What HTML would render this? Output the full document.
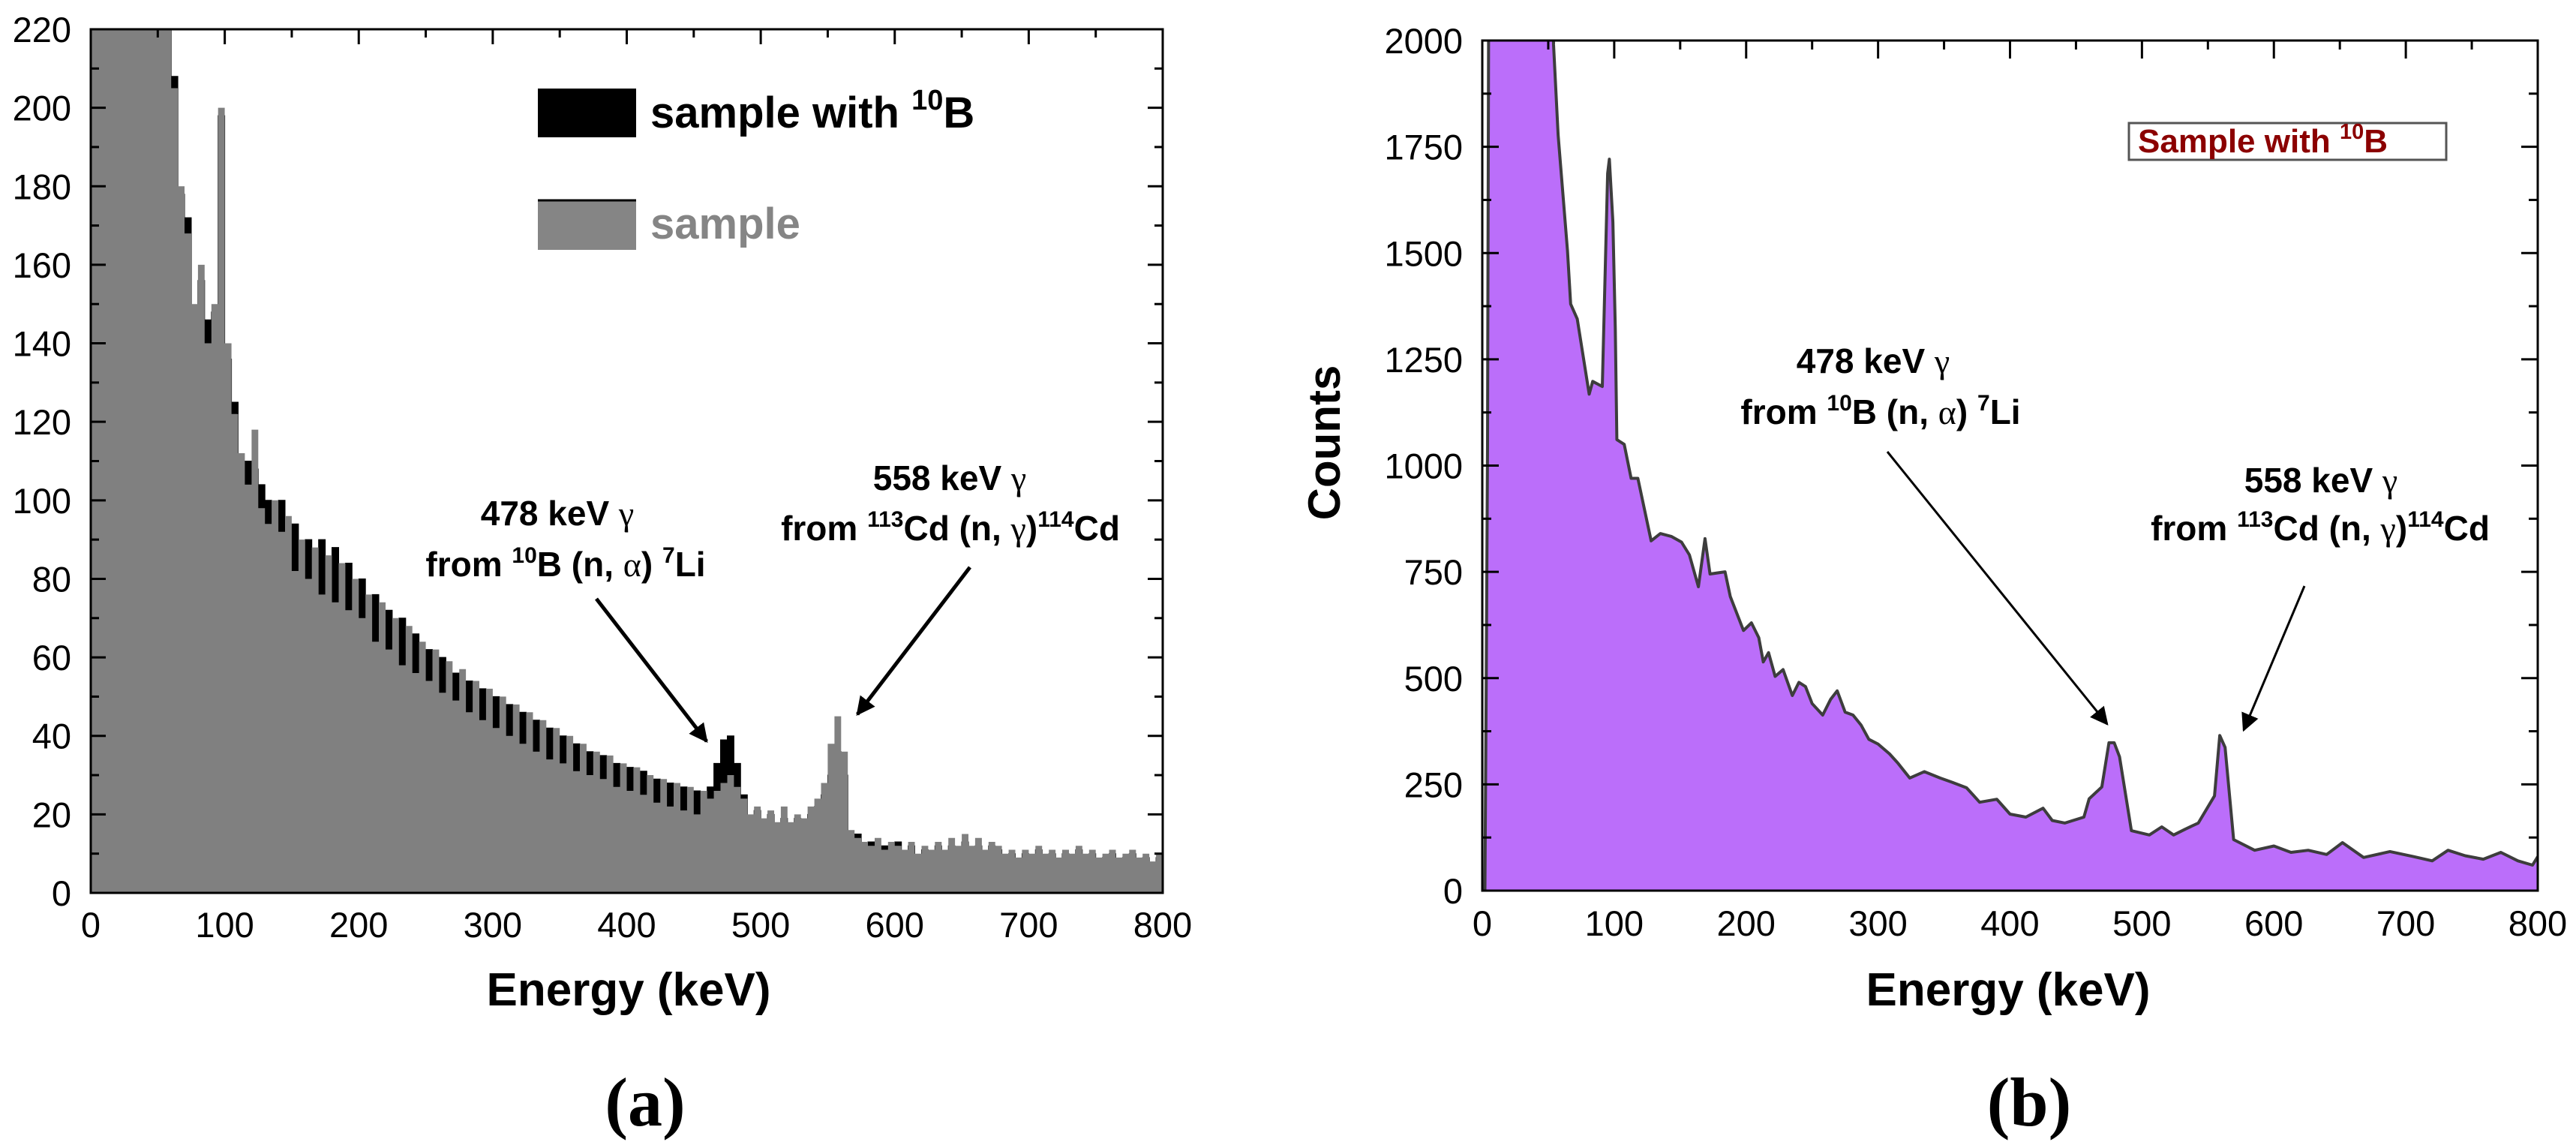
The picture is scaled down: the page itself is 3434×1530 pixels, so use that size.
<!DOCTYPE html>
<html><head><meta charset="utf-8"><title>Gamma spectra</title>
<style>
html,body{margin:0;padding:0;background:#fff;}
svg{display:block;font-family:"Liberation Sans",Arial,sans-serif;}
</style></head>
<body>
<svg id="fig" width="3434" height="1530" viewBox="0 0 3434 1530" xmlns="http://www.w3.org/2000/svg">
<defs>
<clipPath id="clipL"><rect x="121" y="39" width="1429" height="1151"/></clipPath>
<clipPath id="clipR"><rect x="1976" y="54" width="1407" height="1133"/></clipPath>
</defs>
<g id="panelA"></g>
<g id="panelB"></g>
</svg>
<script>
// ---------- Panel (a) data: 5 keV bins starting at 0 keV ----------
const binStartA = 0;
const binWidthA = 5;
const sampleCounts = [
300,300,300,300,300,300,300,300,300,300,300,300,
205,180,168,150,160,140,150,200,140,122,
112,104,118,98,94,100,92,96,82,90,
80,88,76,86,74,84,72,80,70,76,
64,74,62,70,58,68,56,64,54,62,
51,59,49,57,46,54,44,52,42,50,
40,48,38,46,36,44,34,42,33,40,
31,38,30,36,29,35,27,33,26,32,
25,30,23,29,22,28,21,27,20,26,
24,26,28,30,27,24,20,22,19,21,
18,22,18,20,19,22,24,28,38,45,
36,16,14,13,12,14,11,13,12,11,
13,10,12,11,13,11,14,12,15,12,
14,11,13,12,10,11,9,11,10,12,
10,11,9,11,10,12,10,11,9,10,
11,9,10,11,9,10,8,10,9
];
const boronCounts = [
300,300,300,300,300,300,300,300,300,300,300,300,
208,178,172,148,156,146,148,198,136,125,
110,110,108,104,100,96,100,90,94,84,
90,82,90,80,88,76,84,72,80,68,
76,62,72,60,70,56,66,54,62,52,
60,48,56,46,54,44,52,40,50,38,
48,36,46,34,44,33,42,31,40,30,
38,29,36,28,35,26,33,25,32,24,
31,22,29,21,28,20,27,19,26,21,
27,33,39,40,33,25,19,21,18,20,
17,19,17,19,18,20,22,25,30,36,
30,14,15,11,13,12,12,10,13,10,
12,9,11,10,12,10,12,11,13,11,
12,10,12,11,9,10,8,10,9,11,
9,10,8,10,9,11,9,10,8,9,
10,8,9,10,8,9,7,9,8
];
const xTicksA = [0,100,200,300,400,500,600,700,800];
const yTicksA = [0,20,40,60,80,100,120,140,160,180,200,220];

// ---------- Panel (b) data ----------
const energiesB = [0,2,3,4,5,53,54,57.5,64.6,67,72,81,83.7,91,95,96.3,99,100.8,102,107.6,112.8,117.9,128,135,143.5,151,157,163.8,168.8,172.6,184,188,198,204,209.6,213,217,222,228,235,240,245,250,258,264,269,275,281,287,293,300,308.6,315,324,335,347,356,367,372,377,390,400,412,425,432,441.6,456,460,469.6,475,479,483,492,505.6,515,524,533,542.7,555,559,563,569.5,585.4,600,613,626,640,652,668,688,706,720,732,745,758.7,772,785,796,800];
const countsB = [0,0,500,1050,2300,2300,1990,1778,1505,1380,1345,1168,1198,1186,1687,1721,1573,1323,1061,1050,970,970,823,840,833,820,790,715,828,745,750,692,612,630,595,538,560,504,520,459,490,480,440,413,450,470,420,413,390,356,345,322,300,265,280,265,255,242,225,208,215,180,173,194,165,159,173,216,244,348,348,315,141,131,150,131,145,159,223,365,337,120,95,105,90,95,85,113,78,92,80,70,95,82,74,90,70,60,80];
const xTicksB = [0,100,200,300,400,500,600,700,800];
const yTicksB = [0,250,500,750,1000,1250,1500,1750,2000];

// ---------- helpers ----------
const NS = "http://www.w3.org/2000/svg";
function mk(tag, attrs, parent){
  const e = document.createElementNS(NS, tag);
  for (const k in attrs) e.setAttribute(k, attrs[k]);
  if (parent) parent.appendChild(e);
  return e;
}
const gA = document.getElementById('panelA');
const gB = document.getElementById('panelB');

const AL = {x0:121, x1:1550, y0:1190, y1:39, emax:800, cmax:220};
const AR = {x0:1976, x1:3383, y0:1187, y1:54, emax:800, cmax:2000};
function xA(e){ return AL.x0 + e/AL.emax*(AL.x1-AL.x0); }
function yA(c){ return AL.y0 - c/AL.cmax*(AL.y0-AL.y1); }
function xB(e){ return AR.x0 + e/AR.emax*(AR.x1-AR.x0); }
function yB(c){ return AR.y0 - c/AR.cmax*(AR.y0-AR.y1); }

function stepPath(vals){
  let d = 'M' + xA(binStartA) + ',' + yA(0);
  for (let i=0;i<vals.length;i++){
    const e0 = binStartA + i*binWidthA, e1 = e0 + binWidthA;
    d += ' L' + xA(e0).toFixed(1) + ',' + yA(vals[i]).toFixed(1) + ' L' + xA(Math.min(e1,AL.emax)).toFixed(1) + ',' + yA(vals[i]).toFixed(1);
  }
  d += ' L' + xA(AL.emax) + ',' + yA(0) + ' Z';
  return d;
}

// ---------- Panel (a) ----------
const clipA = mk('g', {'clip-path':'url(#clipL)'}, gA);
const boronPath = mk('path', {d: stepPath(boronCounts), fill:'#000', stroke:'#000', 'stroke-width':1}, clipA);


const samplePath = mk('path', {d: stepPath(sampleCounts), fill:'#808080', stroke:'none'}, clipA);



const frameA = mk('rect', {x:AL.x0, y:AL.y1, width:AL.x1-AL.x0, height:AL.y0-AL.y1, fill:'none', stroke:'#000', 'stroke-width':3}, gA);



for (let e=0; e<=800; e+=50){
  const major = (e % 100 === 0);
  const t = mk('line', {x1:xA(e), x2:xA(e), y1:AL.y1, y2:AL.y1 + (major?20:11), stroke:'#000', 'stroke-width':3}, gA);
  
  
}
xTicksA.forEach(v=>{
  const t = mk('text', {x:xA(v), y:1249, 'font-size':47, 'text-anchor':'middle', fill:'#000'}, gA);
  t.textContent = v;
  
  
});
for (let c=0; c<=220; c+=10){
  const major = (c % 20 === 0);
  const L = major?20:11;
  const t1 = mk('line', {x1:AL.x0, x2:AL.x0+L, y1:yA(c), y2:yA(c), stroke:'#000', 'stroke-width':3}, gA);
  
  
  const t2 = mk('line', {x1:AL.x1, x2:AL.x1-L, y1:yA(c), y2:yA(c), stroke:'#000', 'stroke-width':3}, gA);
  
  
}
yTicksA.forEach(v=>{
  const t = mk('text', {x:95, y:yA(v)+17, 'font-size':47, 'text-anchor':'end', fill:'#000'}, gA);
  t.textContent = v;
  
  
});

// ---------- Panel (b) ----------
const clipB = mk('g', {'clip-path':'url(#clipR)'}, gB);
let ptsB = '';
for (let i=0;i<energiesB.length;i++) ptsB += xB(energiesB[i]).toFixed(1) + ',' + yB(countsB[i]).toFixed(1) + ' ';
const fillB = mk('polygon', {points: xB(0)+','+yB(0)+' '+ptsB + xB(800)+','+yB(0), fill:'#BB6EFA', stroke:'none'}, clipB);


const lineB = mk('polyline', {points: ptsB, fill:'none', stroke:'#3d3d3d', 'stroke-width':4, 'stroke-linejoin':'round'}, clipB);



const frameB = mk('rect', {x:AR.x0, y:AR.y1, width:AR.x1-AR.x0, height:AR.y0-AR.y1, fill:'none', stroke:'#000', 'stroke-width':3}, gB);


for (let e=0; e<=800; e+=50){
  const major = (e % 100 === 0);
  const t = mk('line', {x1:xB(e), x2:xB(e), y1:AR.y1, y2:AR.y1 + (major?24:12), stroke:'#000', 'stroke-width':3}, gB);
  
  
}
xTicksB.forEach(v=>{
  const t = mk('text', {x:xB(v), y:1247, 'font-size':47, 'text-anchor':'middle', fill:'#000'}, gB);
  t.textContent = v;
  
  
});
for (let c=0; c<=2000; c+=125){
  const major = (c % 250 === 0);
  const L = major?22:12;
  const t1 = mk('line', {x1:AR.x0, x2:AR.x0+L, y1:yB(c), y2:yB(c), stroke:'#000', 'stroke-width':3}, gB);
  
  
  const t2 = mk('line', {x1:AR.x1, x2:AR.x1-L, y1:yB(c), y2:yB(c), stroke:'#000', 'stroke-width':3}, gB);
  
  
}
yTicksB.forEach(v=>{
  const t = mk('text', {x:1950, y:yB(v)+17, 'font-size':47, 'text-anchor':'end', fill:'#000'}, gB);
  t.textContent = v;
  
  
});
</script>

<svg width="3434" height="1530" viewBox="0 0 3434 1530" style="position:absolute;left:0;top:0;font-family:'Liberation Sans',Arial,sans-serif;">
<defs>
<marker id="ah" viewBox="0 0 10 10" refX="9" refY="5" markerWidth="5" markerHeight="5" orient="auto"><path d="M0,0 L10,5 L0,10 Z" fill="#000"/></marker>
<marker id="ah2" viewBox="0 0 10 10" refX="9" refY="5" markerWidth="8" markerHeight="8" orient="auto"><path d="M0,0 L10,5 L0,10 Z" fill="#000"/></marker>
</defs>

<g>
<rect x="717" y="118" width="131" height="65" fill="#000"/>
<text x="867" y="170" font-size="58" font-weight="bold" fill="#000">sample with <tspan font-size="38" dy="-24">10</tspan><tspan dy="24">B</tspan></text>
<rect x="717" y="266" width="131" height="67" fill="#858585"/>
<line x1="717" y1="267" x2="848" y2="267" stroke="#000" stroke-width="3"/>
<text x="867" y="318" font-size="58" font-weight="bold" fill="#858585">sample</text>
</g>

<g font-weight="bold" fill="#000">
<text x="743" y="700" font-size="46" text-anchor="middle">478 keV <tspan font-weight="normal" font-family="'Liberation Serif',serif">γ</tspan></text>
<text x="754" y="768" font-size="46" text-anchor="middle">from <tspan font-size="30" dy="-18">10</tspan><tspan dy="18">B (n, </tspan><tspan font-weight="normal" font-family="'Liberation Serif',serif">α</tspan>) <tspan font-size="30" dy="-18">7</tspan><tspan dy="18">Li</tspan></text>
<line x1="795" y1="798" x2="942" y2="988" stroke="#000" stroke-width="5" marker-end="url(#ah)"/>
</g>
<g font-weight="bold" fill="#000">
<text x="1266" y="653" font-size="46" text-anchor="middle">558 keV <tspan font-weight="normal" font-family="'Liberation Serif',serif">γ</tspan></text>
<text x="1267" y="720" font-size="46" text-anchor="middle">from <tspan font-size="30" dy="-18">113</tspan><tspan dy="18">Cd (n, </tspan><tspan font-weight="normal" font-family="'Liberation Serif',serif">γ</tspan>)<tspan font-size="30" dy="-18">114</tspan><tspan dy="18">Cd</tspan></text>
<line x1="1293" y1="756" x2="1143" y2="952" stroke="#000" stroke-width="5" marker-end="url(#ah)"/>
</g>

<text x="838" y="1340" font-size="62" font-weight="bold" text-anchor="middle">Energy (keV)</text>
<text x="2677" y="1340" font-size="62" font-weight="bold" text-anchor="middle">Energy (keV)</text>
<text transform="translate(1786,590) rotate(-90)" font-size="60" font-weight="bold" text-anchor="middle">Counts</text>
<text x="860" y="1500" font-size="92" font-weight="bold" text-anchor="middle" font-family="'Liberation Serif',serif">(a)</text>
<text x="2705" y="1500" font-size="92" font-weight="bold" text-anchor="middle" font-family="'Liberation Serif',serif">(b)</text>

<g>
<rect x="2838" y="164" width="423" height="49" fill="#fff" stroke="#555" stroke-width="3"/>
<text x="2850" y="203" font-size="44" font-weight="bold" fill="#8B0000">Sample with <tspan font-size="29" dy="-18">10</tspan><tspan dy="18">B</tspan></text>
</g>

<g font-weight="bold" fill="#000">
<text x="2497" y="497" font-size="46" text-anchor="middle">478 keV <tspan font-weight="normal" font-family="'Liberation Serif',serif">γ</tspan></text>
<text x="2507" y="565" font-size="46" text-anchor="middle">from <tspan font-size="30" dy="-18">10</tspan><tspan dy="18">B (n, </tspan><tspan font-weight="normal" font-family="'Liberation Serif',serif">α</tspan>) <tspan font-size="30" dy="-18">7</tspan><tspan dy="18">Li</tspan></text>
<line x1="2516" y1="602" x2="2809" y2="965" stroke="#000" stroke-width="3" marker-end="url(#ah2)"/>
</g>
<g font-weight="bold" fill="#000">
<text x="3094" y="656" font-size="46" text-anchor="middle">558 keV <tspan font-weight="normal" font-family="'Liberation Serif',serif">γ</tspan></text>
<text x="3093" y="720" font-size="46" text-anchor="middle">from <tspan font-size="30" dy="-18">113</tspan><tspan dy="18">Cd (n, </tspan><tspan font-weight="normal" font-family="'Liberation Serif',serif">γ</tspan>)<tspan font-size="30" dy="-18">114</tspan><tspan dy="18">Cd</tspan></text>
<line x1="3072" y1="781" x2="2991" y2="973" stroke="#000" stroke-width="3" marker-end="url(#ah2)"/>
</g>
</svg>
</body></html>
